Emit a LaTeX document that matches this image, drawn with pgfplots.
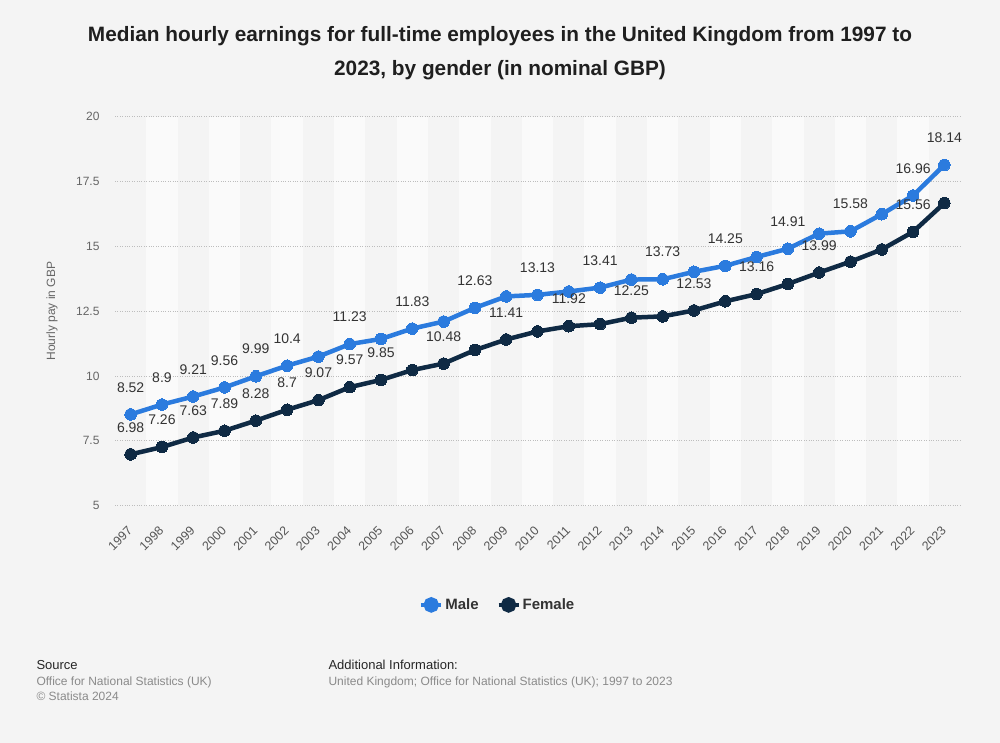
\documentclass[border=0pt]{standalone}
\usepackage{pgfplots}
\pgfplotsset{compat=1.18}
\usepackage{fontspec}
\setmainfont{Liberation Sans}
\definecolor{bg}{HTML}{F4F4F4}
\definecolor{band}{HTML}{FAFAFA}
\definecolor{male}{HTML}{2B7BDE}
\definecolor{female}{HTML}{0F2A44}
\definecolor{txt}{HTML}{333333}
\definecolor{gtxt}{HTML}{666666}
\definecolor{xtxt}{HTML}{555555}
\definecolor{ltxt}{HTML}{8A8A8A}
\definecolor{gridc}{HTML}{BDBDBD}
\pagecolor{bg}
\begin{document}
\begin{tikzpicture}[x=1pt,y=1pt]
\path (0,0) rectangle (1000,743);
\node[anchor=base, font=\bfseries\fontsize{20.8}{24}\selectfont, text=black!88] at (500,701) {Median hourly earnings for full-time employees in the United Kingdom from 1997 to};
\node[anchor=base, font=\bfseries\fontsize{20.8}{24}\selectfont, text=black!88] at (500,667) {2023, by gender (in nominal GBP)};
\begin{axis}[
  set layers=standard,
  at={(115pt,237.3pt)}, anchor=south west, scale only axis,
  width=845pt, height=389pt,
  xmin=1996.5, xmax=2023.5, ymin=5, ymax=20,
  xtick={1997,...,2023}, ytick={5,7.5,...,20},
  axis line style={draw=none}, major tick style={draw=none},
  ymajorgrids, grid style={gridc, dotted, line width=0.8pt},
  /pgf/number format/assume math mode=true,
  /pgf/number format/1000 sep={},
  x tick label style={font=\fontsize{12.5}{14}\selectfont, text=xtxt, xshift=-0.5pt, yshift=-22.8pt, rotate=45, anchor=east, inner sep=0pt},
  y tick label style={font=\fontsize{12}{14}\selectfont, text=gtxt, xshift=-12pt},
  ylabel={Hourly pay in GBP},
  ylabel style={font=\fontsize{12}{14}\selectfont, text=gtxt, at={(axis description cs:-0.0746,0.5)}, anchor=center},
  legend style={at={(axis description cs:0.453,-0.255)}, anchor=center, draw=none, fill=none,
     font=\bfseries\fontsize{15}{18}\selectfont, text=txt,
     /tikz/every even column/.append style={column sep=16pt}},
  legend columns=2,
  legend image code/.code={\draw[#1, line width=4pt] (0pt,0pt) -- (20pt,0pt); \fill[#1] (10pt,0pt) circle (5.5pt);},
]
\begin{pgfonlayer}{axis background}
\pgfplotsinvokeforeach{1998,2000,...,2022}{\fill[band] (axis cs:#1-0.5,5) rectangle (axis cs:#1+0.5,20);}
\end{pgfonlayer}
\addplot[male, line width=4.5pt, mark=*, mark size=5.8pt, mark options={line width=0pt}] coordinates {
(1997,8.52) (1998,8.9) (1999,9.21) (2000,9.56) (2001,9.99) (2002,10.4) (2003,10.75)
(2004,11.23) (2005,11.43) (2006,11.83) (2007,12.10) (2008,12.63) (2009,13.07) (2010,13.13)
(2011,13.26) (2012,13.41) (2013,13.72) (2014,13.73) (2015,14.02) (2016,14.25) (2017,14.59)
(2018,14.91) (2019,15.49) (2020,15.58) (2021,16.24) (2022,16.96) (2023,18.14)};
\addlegendentry{Male}
\addplot[female, line width=4.5pt, mark=*, mark size=5.8pt, mark options={line width=0pt}] coordinates {
(1997,6.98) (1998,7.26) (1999,7.63) (2000,7.89) (2001,8.28) (2002,8.7) (2003,9.07)
(2004,9.57) (2005,9.85) (2006,10.23) (2007,10.48) (2008,11.0) (2009,11.41) (2010,11.72)
(2011,11.92) (2012,12.0) (2013,12.25) (2014,12.30) (2015,12.53) (2016,12.88) (2017,13.16)
(2018,13.55) (2019,13.99) (2020,14.41) (2021,14.88) (2022,15.56) (2023,16.67)};
\addlegendentry{Female}
\addplot[draw=none, mark=none, forget plot, nodes near coords, point meta=explicit symbolic,
  every node near coord/.append style={font=\fontsize{14}{16}\selectfont, text=txt, anchor=south, inner sep=0pt, yshift=22pt}]
 coordinates {
(1997,8.52) [8.52] (1998,8.9) [8.9] (1999,9.21) [9.21] (2000,9.56) [9.56] (2001,9.99) [9.99]
(2002,10.4) [10.4] (2004,11.23) [11.23] (2006,11.83) [11.83] (2008,12.63) [12.63]
(2010,13.13) [13.13] (2012,13.41) [13.41] (2014,13.73) [13.73] (2016,14.25) [14.25]
(2018,14.91) [14.91] (2020,15.58) [15.58] (2022,16.96) [16.96] (2023,18.14) [18.14]};
\addplot[draw=none, mark=none, forget plot, nodes near coords, point meta=explicit symbolic,
  every node near coord/.append style={font=\fontsize{14}{16}\selectfont, text=txt, anchor=south, inner sep=0pt, yshift=22pt}]
 coordinates {
(1997,6.98) [6.98] (1998,7.26) [7.26] (1999,7.63) [7.63] (2000,7.89) [7.89] (2001,8.28) [8.28]
(2002,8.7) [8.7] (2003,9.07) [9.07] (2004,9.57) [9.57] (2005,9.85) [9.85] (2007,10.48) [10.48]
(2009,11.41) [11.41] (2011,11.92) [11.92] (2013,12.25) [12.25] (2015,12.53) [12.53]
(2017,13.16) [13.16] (2019,13.99) [13.99] (2022,15.56) [15.56]};
\end{axis}
\node[anchor=base west, font=\fontsize{13}{15}\selectfont, text=black!85] at (33,73) {Source};
\node[anchor=base west, font=\fontsize{12}{14}\selectfont, text=ltxt] at (33,57) {Office for National Statistics (UK)};
\node[anchor=base west, font=\fontsize{12}{14}\selectfont, text=ltxt] at (33,42) {\textcopyright\ Statista 2024};
\node[anchor=base west, font=\fontsize{13}{15}\selectfont, text=black!85] at (325,73) {Additional Information:};
\node[anchor=base west, font=\fontsize{12}{14}\selectfont, text=ltxt] at (325,57) {United Kingdom; Office for National Statistics (UK); 1997 to 2023};
\end{tikzpicture}
\end{document}
